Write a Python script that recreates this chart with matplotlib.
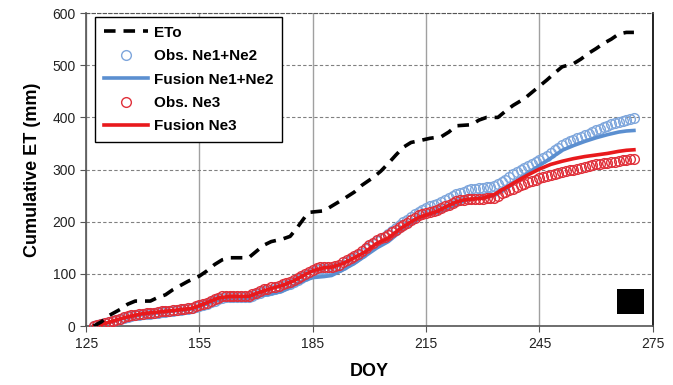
import matplotlib
matplotlib.use("Agg")
import matplotlib.pyplot as plt
from matplotlib.patches import Rectangle
import numpy as np

plt.rcParams.update({
    "font.family": ["Liberation Sans", "DejaVu Sans"],
    "font.size": 9,
})

# ---------------- data
# ETo (dashed black), knots
ETO_DOY = [127, 129, 131, 134, 136, 138, 142, 144, 146, 148, 150, 152, 155,
           157, 159, 161, 163, 168, 170, 172, 174, 177, 179, 181, 183, 184,
           188, 190, 193, 196, 198, 201, 203, 205, 207, 209, 211, 213, 216,
           219, 221, 223, 227, 229, 231, 234, 236, 238, 241, 243, 245, 247,
           249, 251, 254, 256, 258, 260, 262, 264, 266, 268, 270]
ETO = [0, 8, 20, 32, 42, 48, 48, 55, 60, 70, 78, 86, 96,
       106, 118, 127, 131, 131, 143, 155, 162, 167, 172, 190, 210, 218,
       221, 230, 243, 257, 270, 285, 297, 312, 328, 343, 352, 355, 360,
       363, 372, 384, 386, 395, 400, 400, 412, 423, 436, 448, 460, 472,
       485, 497, 503, 512, 523, 532, 542, 550, 560, 563, 563]

# daily observations, DOY 127..270
OBS_DOY = list(range(127, 271))
OBS_NE12 = [0, 2, 4, 5, 8, 10, 12, 14, 16, 18,
            20, 21, 22, 23, 24, 24, 25, 26, 27, 27,
            28, 29, 30, 31, 32, 33, 34, 36, 38, 41,
            43, 46, 49, 52, 54, 55, 55, 55, 55, 55,
            55, 55, 58, 61, 64, 67, 68, 70, 71, 73,
            76, 78, 81, 84, 88, 92, 96, 100, 104, 107,
            109, 110, 110, 110, 111, 114, 118, 122, 127, 131,
            136, 141, 147, 153, 158, 163, 167, 171, 176, 182,
            188, 194, 199, 204, 209, 214, 219, 223, 227, 230,
            232, 235, 238, 241, 245, 249, 253, 256, 258, 260,
            262, 263, 264, 265, 266, 267, 269, 272, 276, 281,
            286, 291, 295, 299, 303, 307, 311, 315, 319, 323,
            327, 332, 337, 342, 347, 351, 354, 357, 360, 363,
            366, 369, 372, 375, 378, 381, 384, 387, 390, 392,
            394, 396, 397, 398]
OBS_NE3 = [0, 2, 4, 5, 8, 10, 12, 14, 17, 19,
           21, 22, 23, 24, 25, 25, 26, 27, 28, 28,
           29, 30, 31, 32, 33, 34, 35, 38, 40, 43,
           45, 48, 51, 54, 57, 58, 58, 58, 58, 58,
           58, 58, 61, 64, 68, 71, 72, 74, 75, 77,
           80, 82, 85, 88, 92, 96, 100, 104, 108, 111,
           113, 114, 114, 114, 115, 118, 122, 126, 130, 134,
           139, 143, 149, 155, 160, 165, 168, 171, 175, 180,
           185, 190, 194, 198, 203, 207, 212, 215, 217, 219,
           221, 223, 226, 230, 233, 236, 240, 241, 242, 243,
           243, 243, 244, 244, 245, 245, 246, 249, 255, 258,
           261, 263, 266, 270, 273, 276, 279, 281, 283, 285,
           288, 290, 292, 294, 296, 297, 299, 300, 302, 304,
           305, 307, 308, 310, 311, 312, 313, 314, 315, 317,
           318, 319, 320, 321]

# fusion model lines, knots
FUS_DOY = [127, 130, 135, 140, 147, 153, 156, 160, 163, 168, 171, 174, 177,
           180, 183, 185, 188, 190, 193, 196, 199, 202, 205, 208, 211, 213,
           215, 218, 220, 223, 225, 228, 230, 233, 236, 239, 242, 245, 248,
           251, 254, 257, 260, 263, 266, 268, 270]
FUS_NE12 = [0, 5, 15, 22, 28, 33, 40, 50, 52, 52, 58, 62, 67,
            78, 88, 93, 95, 97, 108, 120, 135, 150, 162, 180, 195, 205,
            212, 218, 222, 233, 240, 245, 246, 250, 262, 278, 293, 308, 322,
            337, 346, 354, 361, 367, 372, 374, 375]
FUS_NE3 = [0, 5, 16, 24, 29, 34, 42, 54, 57, 57, 65, 72, 78,
           87, 99, 106, 112, 113, 120, 131, 143, 159, 169, 186, 200, 208,
           213, 220, 228, 238, 242, 244, 245, 252, 265, 278, 290, 301, 310,
           316, 321, 325, 328, 331, 335, 337, 338]

BLUE = "#5b8fd0"
RED = "#e8191c"

# ---------------- figure
fig = plt.figure(figsize=(6.73, 3.85), dpi=100)
ax = fig.add_axes([0.128, 0.153, 0.842, 0.813])

ax.plot(ETO_DOY, ETO, color="black", lw=2.6, ls=(0, (3.2, 2.2)), label="ETo",
        zorder=5)
ax.plot(OBS_DOY, OBS_NE12, ls="none", marker="o", ms=7, mfc="none",
        mec="#7ea6dc", mew=1.0, label="Obs. Ne1+Ne2", zorder=3)
ax.plot(FUS_DOY, FUS_NE12, color=BLUE, lw=2.6, label="Fusion Ne1+Ne2",
        zorder=3)
ax.plot(OBS_DOY, OBS_NE3, ls="none", marker="o", ms=7, mfc="none",
        mec="#e0303a", mew=1.0, label="Obs. Ne3", zorder=4)
ax.plot(FUS_DOY, FUS_NE3, color=RED, lw=2.6, label="Fusion Ne3", zorder=4)

ax.set_xlim(125, 275)
ax.set_ylim(0, 600)
ax.set_xticks(np.arange(125, 276, 30))
ax.set_yticks(np.arange(0, 601, 100))
ax.xaxis.grid(True, color="#a0a0a0", lw=1.0, ls="-")
ax.yaxis.grid(True, color="#808080", lw=0.8, ls=(0, (3, 2)))
ax.set_axisbelow(True)
for s in ("left", "bottom"):
    ax.spines[s].set_color("#555555")
    ax.spines[s].set_linewidth(1.2)
ax.spines["right"].set_color("black")
ax.spines["right"].set_linewidth(1.2)
ax.spines["top"].set_color("#555555")
ax.spines["top"].set_linestyle((0, (3, 2)))
ax.tick_params(direction="out", length=4, color="#555555",
               labelcolor="#222222", labelsize=10)

ax.set_xlabel("DOY", fontsize=13, fontweight="bold", labelpad=9)
ax.set_ylabel("Cumulative ET (mm)", fontsize=13, fontweight="bold",
              labelpad=8)

ax.add_patch(Rectangle((0.937, 0.038), 0.047, 0.081, transform=ax.transAxes,
                       facecolor="black", edgecolor="none", zorder=6))

leg = ax.legend(loc="upper left", bbox_to_anchor=(0.016, 0.987),
                borderaxespad=0, prop={"weight": "bold", "size": 11},
                handlelength=2.9, handletextpad=0.4, labelspacing=0.62,
                fancybox=False, edgecolor="black", framealpha=1,
                borderpad=0.55)
leg.get_frame().set_linewidth(1.0)
leg.set_zorder(10)

fig.savefig("out.png", dpi=100)
